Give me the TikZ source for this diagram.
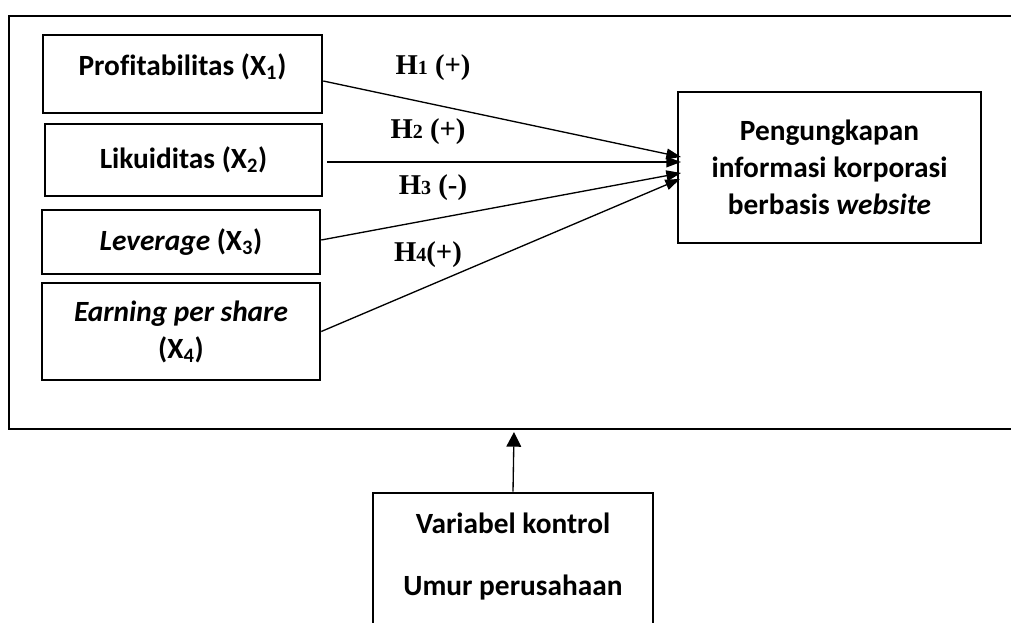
\documentclass[tikz,border=0pt]{standalone}
\usepackage{fontspec}
\setmainfont[Ligatures=NoCommon]{Carlito}
\newfontfamily\hfont{Liberation Serif}
\usepackage{tikz}
\usetikzlibrary{calc}
\usetikzlibrary{arrows.meta}
\newcommand{\hsub}[1]{{\fontsize{15}{15}\selectfont #1}}
\begin{document}
\begin{tikzpicture}[x=0.75pt,y=-0.75pt]
	\tikzset{>={Triangle[length=11pt,width=8pt]}}
	\tikzset{varBox/.style={draw,line width=1.9pt,inner sep=0,align=center,font=\bfseries\fontsize{22}{27.75}\selectfont}}
	\tikzset{hypLabel/.style={font=\hfont\bfseries\fontsize{21.5}{26}\selectfont}}
	\useasboundingbox (0,0) rectangle (1011,623);
	
	% outer frame, right side lies outside the page
	\draw[line width=2pt] (1040,16) -| (9,429) -- (1040,429);
	
	% independent variables
	\node (rectX1) at (182.5,74) [varBox,text depth=14pt,minimum width=279*0.75pt,minimum height=78*0.75pt] {Profitabilitas (X\textsubscript{1})};
	\node (rectX2) at (183.5,160) [varBox,minimum width=277*0.75pt,minimum height=72*0.75pt] {Likuiditas (X\textsubscript{2})};
	\node (rectX3) at (181,242) [varBox,minimum width=278*0.75pt,minimum height=64*0.75pt] {\textit{Leverage} (X\textsubscript{3})};
	\node (rectX4) at (181,331.5) [varBox,minimum width=278*0.75pt,minimum height=97*0.75pt] {\textit{Earning per share}\\(X\textsubscript{4})};
	
	% dependent variable
	\node (rectDep) at (829.5,167.5) [varBox,minimum width=303*0.75pt,minimum height=151*0.75pt] {Pengungkapan\\informasi korporasi\\berbasis \textit{website}};
	
	% control variable, bottom cut by the page
	\node (rectCtrl) at (513,600) [varBox,minimum width=280*0.75pt,minimum height=214*0.75pt] {};
	\node (ctrlText) at (513,557) [varBox,draw=none] {Variabel kontrol\\[18.75pt]Umur perusahaan};
	
	% arrow ends
	\coordinate (tip1) at (681,157);
	\coordinate (tip2) at (681,162);
	\coordinate (tip3) at (681,173);
	\coordinate (tip4) at (680,179);
	\coordinate (tipCtrl) at (514,432);
	
	\draw[line width=1pt,->] ($(rectX1.east)+(0,7)$) -- (tip1);
	\draw[line width=1pt,->] ($(rectX2.east)+(4,2)$) -- (tip2);
	\draw[line width=1pt,->] ($(rectX3.east)+(0,-2)$) -- (tip3);
	\draw[line width=1pt,->] (rectX4.east) -- (tip4);
	\draw[line width=1pt,-{Triangle[length=11pt,width=11pt]}] (rectCtrl.north) -- (tipCtrl);
	
	% hypotheses
	\node[hypLabel] (hyp1) at (433,68) {H\hsub{1} (+)};
	\node[hypLabel] (hyp2) at (428,132) {H\hsub{2} (+)};
	\node[hypLabel] (hyp3) at (433,188) {H\hsub{3} (-)};
	\node[hypLabel] (hyp4) at (428,255) {H\hsub{4}(+)};
\end{tikzpicture}
\end{document}
